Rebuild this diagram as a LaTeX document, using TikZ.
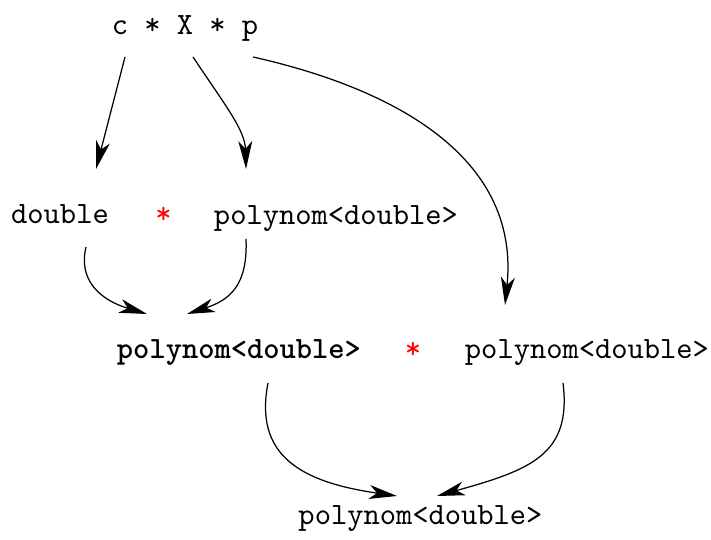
\documentclass[tikz,border=0pt]{standalone}
\usepackage{tikz}
\usetikzlibrary{arrows.meta,calc}

\tikzset{
  word/.style={font=\ttfamily, anchor=base},
  mul/.style={font=\ttfamily, text=red, anchor=base},
  link/.style={-{Stealth[length=9pt,width=4.5pt,inset=2.5pt]}, line width=0.4pt}
}

\begin{document}
\begin{tikzpicture}[x=0.3227pt, y=-0.3227pt]
  \useasboundingbox (0,0) rectangle (711,540);
  % rows of the expression
  \node[word] (T) at (185,35) {c * X * p};
  \node[word] (D) at (60,224) {double};
  \node[mul]  (S) at (163.5,224) {*};
  \node[word] (P) at (336,225) {polynom<double>};
  \node[word, font=\ttfamily\bfseries] (Q) at (239,359) {polynom<double>};
  \node[mul]  (M) at (413,359) {*};
  \node[word] (R) at (587,359) {polynom<double>};
  \node[word] (Z) at (420.5,525) {polynom<double>};
  % first step
  \draw[link] ($(T.base)+(-60,22)$) -- ($(D.base)+(36,-55)$);
  \draw[link] ($(T.base)+(8,22)$) .. controls +(32,48) and +(-1,-39) .. ($(P.base)+(-90,-56)$);
  \draw[link] ($(T.base)+(68,22)$) .. controls +(147,33) and +(15,-145) .. ($(R.base)+(-82,-54)$);
  % second step
  \draw[link] ($(D.base)+(26,23)$) .. controls +(-8,33) and +(-47,-14) .. ($(Q.base)+(-92,-45)$);
  \draw[link] ($(P.base)+(-90,14)$) .. controls +(2,46) and +(43,-14) .. ($(Q.base)+(-52,-45)$);
  % last step
  \draw[link] ($(Q.base)+(29,24)$) .. controls +(-14,72) and +(-97,-14) .. ($(Z.base)+(-23.5,-29)$);
  \draw[link] ($(R.base)+(-24,24)$) .. controls +(9,72) and +(93,-26) .. ($(Z.base)+(16.5,-29)$);
\end{tikzpicture}
\end{document}
